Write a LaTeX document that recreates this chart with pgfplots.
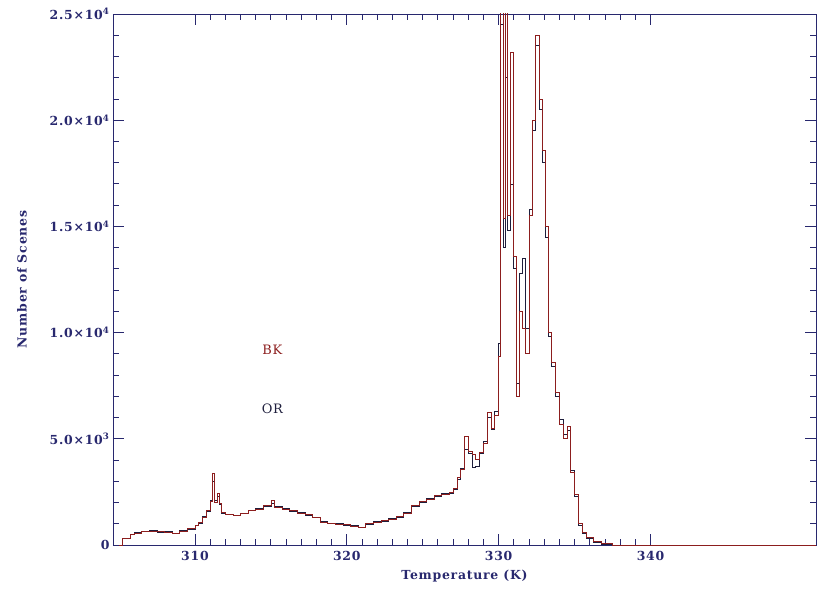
\documentclass[border=0pt]{standalone}
\usepackage{pgfplots}
\pgfplotsset{compat=1.18}
\usepackage{fontspec}
\setmainfont{DejaVu Serif}[LetterSpace=6]
\definecolor{axisnavy}{RGB}{40,40,110}
\definecolor{bkred}{RGB}{140,30,30}
\definecolor{ornavy}{RGB}{30,30,60}

\begin{document}
\begin{tikzpicture}
\begin{axis}[
    scale only axis,
    width=703bp, height=531bp,
    xmin=304.6, xmax=350.9,
    ymin=0, ymax=25000,
    axis line style={axisnavy, line width=0.8pt},
    xtick={310,320,330,340},
    xticklabels={310,320,330,340},
    minor x tick num=9,
    ytick={0,5000,10000,15000,20000,25000},
    yticklabels={0, 5.0×10\textsuperscript{3}, 1.0×10\textsuperscript{4},
                 1.5×10\textsuperscript{4}, 2.0×10\textsuperscript{4}, 2.5×10\textsuperscript{4}},
    minor y tick num=4,
    scaled y ticks=false,
    tick style={axisnavy, line width=0.9pt},
    major tick length=11bp, minor tick length=6bp,
    ticklabel style={font=\fontsize{12.5}{14}\selectfont\bfseries, text=axisnavy},
    xticklabel style={yshift=-3bp},
    xlabel={Temperature (K)}, ylabel={Number of Scenes},
    label style={font=\fontsize{12.5}{14}\selectfont\bfseries, text=axisnavy},
    xlabel style={at={(axis description cs:0.5,-0.058)}, anchor=center},
    ylabel style={at={(axis description cs:-0.1295,0.5)}, anchor=center},
]
% OR histogram
\addplot[const plot mark left, ornavy, line width=0.8pt] coordinates {
(305.0,0) (305.25,300) (305.75,500) (306.0,580) (306.5,620) (307.0,680)
(307.5,600) (308.0,620) (308.5,540) (309.0,670) (309.5,740) (310.0,920)
(310.25,1000) (310.5,1350) (310.75,1600) (311.0,2100) (311.15,3000) (311.3,2100)
(311.45,2300) (311.6,1900) (311.75,1500) (312.0,1450) (312.5,1380) (313.0,1500)
(313.5,1620) (314.0,1700) (314.5,1800) (315.0,1950) (315.25,1800) (315.75,1700)
(316.25,1600) (316.75,1520) (317.25,1400) (317.75,1300) (318.25,1100) (318.75,1000)
(319.25,1010) (319.75,940) (320.25,900) (320.75,820) (321.25,980) (321.75,1100)
(322.25,1130) (322.75,1250) (323.25,1320) (323.75,1550) (324.25,1800) (324.75,2000)
(325.25,2200) (325.75,2300) (326.25,2450) (326.75,2450) (327.0,2600) (327.25,3100)
(327.5,3600) (327.75,4500) (328.0,4300) (328.25,3650) (328.5,3700) (328.75,4300)
(329.0,4900) (329.25,6000) (329.5,5450) (329.75,6300) (330.0,9500) (330.1,24500)
(330.3,14000) (330.45,22000) (330.6,14800) (330.8,17000) (331.0,13000) (331.15,7600)
(331.35,12800) (331.55,13500) (331.75,10200) (332.0,15800) (332.2,19500) (332.4,23500)
(332.65,20500) (332.85,18000) (333.05,14500) (333.25,9800) (333.5,8400) (333.75,7000)
(334.0,5900) (334.25,5200) (334.5,5400) (334.75,3500) (335.0,2300) (335.25,900)
(335.5,550) (335.75,300) (336.25,130) (336.75,50) (337.5,0) (350.9,0)
};
% BK histogram
\addplot[const plot mark left, bkred, line width=0.8pt] coordinates {
(305.0,0) (305.25,330) (305.75,480) (306.0,560) (306.5,640) (307.0,660)
(307.5,620) (308.0,600) (308.5,560) (309.0,650) (309.5,760) (310.0,900)
(310.25,1050) (310.5,1300) (310.75,1650) (311.0,2050) (311.15,3350) (311.3,2000)
(311.45,2450) (311.6,1950) (311.75,1550) (312.0,1420) (312.5,1400) (313.0,1480)
(313.5,1650) (314.0,1680) (314.5,1850) (315.0,2100) (315.25,1750) (315.75,1680)
(316.25,1650) (316.75,1500) (317.25,1420) (317.75,1280) (318.25,1080) (318.75,1020)
(319.25,990) (319.75,960) (320.25,880) (320.75,840) (321.25,1000) (321.75,1080)
(322.25,1150) (322.75,1220) (323.25,1350) (323.75,1500) (324.25,1850) (324.75,2050)
(325.25,2150) (325.75,2350) (326.25,2400) (326.75,2500) (327.0,2650) (327.25,3200)
(327.5,3550) (327.75,5100) (328.0,4400) (328.25,4250) (328.5,4050) (328.75,4350)
(329.0,4800) (329.25,6250) (329.5,5500) (329.75,6100) (330.0,8900) (330.1,26000)
(330.3,15400) (330.45,26000) (330.6,15500) (330.8,23200) (331.0,13600) (331.15,7000)
(331.35,11000) (331.55,10200) (331.75,9000) (332.0,15500) (332.2,20000) (332.4,24000)
(332.65,21000) (332.85,18600) (333.05,15000) (333.25,10000) (333.5,8600) (333.75,7200)
(334.0,5700) (334.25,5000) (334.5,5600) (334.75,3400) (335.0,2400) (335.25,1000)
(335.5,600) (335.75,350) (336.25,150) (336.75,60) (337.5,0) (350.9,0)
};
\node[bkred, font=\fontsize{13}{15}\selectfont] at (axis cs:315.1,9200) {BK};
\node[ornavy, font=\fontsize{13}{15}\selectfont] at (axis cs:315.1,6400) {OR};
\end{axis}
\pgfresetboundingbox
\useasboundingbox ([shift={(-113bp,-48bp)}]current axis.south west)
    rectangle ([shift={(3bp,14bp)}]current axis.north east);
\end{tikzpicture}
\end{document}
